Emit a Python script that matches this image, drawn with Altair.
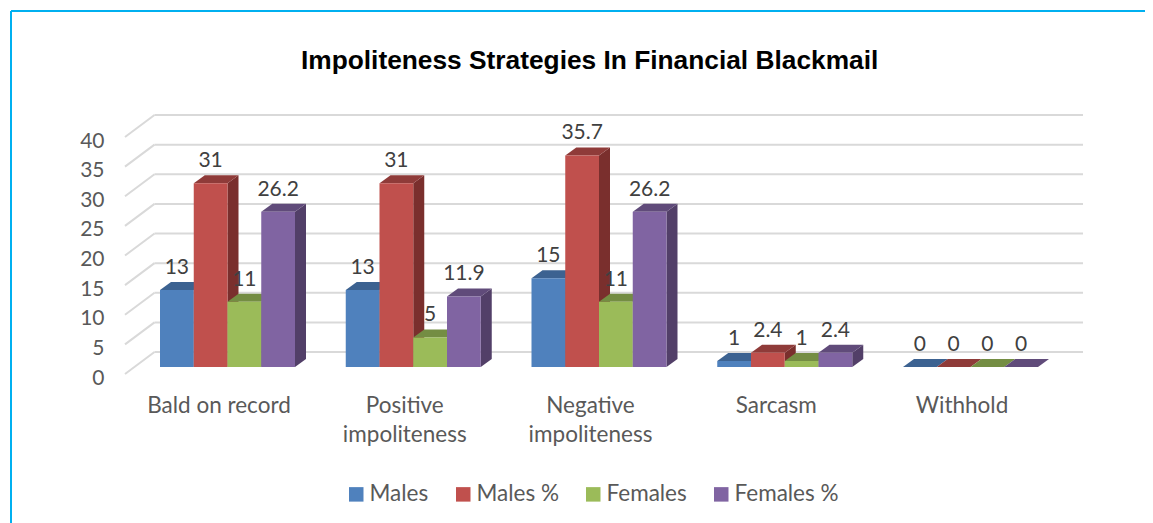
import altair as alt
import pandas as pd

categories = ["Bald on record", "Positive\nimpoliteness", "Negative\nimpoliteness", "Sarcasm", "Withhold"]
series = ["Males", "Males %", "Females", "Females %"]
males = [13, 13, 15, 1, 0]
males_pct = [31, 31, 35.7, 2.4, 0]
females = [11, 5, 11, 1, 0]
females_pct = [26.2, 11.9, 26.2, 2.4, 0]
value_ticks = [0, 5, 10, 15, 20, 25, 30, 35, 40]

front_colors = ["#4F81BD", "#C0504D", "#9BBB59", "#8064A2"]
top_colors = ["#3C6291", "#8F3B39", "#748D43", "#604B7A"]
side_colors = ["#2F4D72", "#7A2F2D", "#5E7236", "#523F68"]

# Page geometry -> data units
W, H = 1137, 515
PX = 185.75          # px per category
PY = 5.925           # px per value unit
X0, Y0 = 160, 367    # page position of (0, 0) on the bars' front plane
bar_w = 33.75 / PX
dx = 11 / PX
dy = 8 / PY

FONT = "Lato"
FS_NUM = 21
FS_TXT = 22.5

x_scale = alt.Scale(domain=[(8 - X0) / PX, (8 + W - X0) / PX], nice=False, zero=False)
y_scale = alt.Scale(domain=[(Y0 - 8 - H) / PY, (Y0 - 8) / PY], nice=False, zero=False)
AXIS = alt.Axis(values=value_ticks, domain=False, ticks=False, grid=False, title=None,
                labelFont=FONT, labelFontSize=FS_NUM, labelColor="#595959",
                labelPadding=-96, labelOffset=11, labelAlign="right")
X = lambda f, **k: alt.X(f, type="quantitative", scale=x_scale, axis=None, title=None, **k)
Y_plain = lambda f: alt.Y(f, type="quantitative", scale=y_scale, axis=AXIS, title=None, stack=None)

rows = []
for s, vals in zip(series, [males, males_pct, females, females_pct]):
    for c, v in zip(categories, vals):
        rows.append({"series": s, "cat": c, "value": v})
df = pd.DataFrame(rows)
df["si"] = df["series"].map(series.index)
df["ci"] = df["cat"].map(categories.index)
df["x0"] = df["ci"] + df["si"] * bar_w
df["x1"] = df["x0"] + bar_w
df["xc"] = df["x0"] + bar_w / 2
df["label"] = df["value"].map(lambda v: f"{v:g}")
df["id"] = df["series"] + df["ci"].astype(str)

layers = []

# Walls: grid lines on the back wall and diagonals on the side wall
grid_x_left = (125 - X0) / PX
grid_x_back = (154.5 - X0) / PX
grid_x_right = (1083 - X0) / PX
back = (Y0 - 352) / PY
front = (Y0 - 374) / PY
grid = pd.DataFrame({"v": value_ticks})
grid["yb"] = grid["v"] + back
grid["yf"] = grid["v"] + front
grid["xl"], grid["xb"], grid["xr"] = grid_x_left, grid_x_back, grid_x_right
GRID = "#D9D9D9"
layers.append(alt.Chart(grid).mark_rule(color=GRID, strokeWidth=2).encode(
    x=X("xb"), x2="xr", y=Y_plain("yb")))
layers.append(alt.Chart(grid).mark_rule(color=GRID, strokeWidth=2).encode(
    x=X("xl"), x2="xb", y=Y_plain("yf"), y2="yb"))

# Bars, painted back to front series by series
for i, s in enumerate(series):
    d = df[df["si"] == i]
    side = pd.concat([
        pd.DataFrame({"id": d["id"], "x": d["x1"], "y": d["value"], "y2": 0.0}),
        pd.DataFrame({"id": d["id"], "x": d["x1"] + dx, "y": d["value"] + dy, "y2": dy}),
    ])
    top = pd.concat([
        pd.DataFrame({"id": d["id"], "y": d["value"], "x": d["x0"], "x2": d["x1"]}),
        pd.DataFrame({"id": d["id"], "y": d["value"] + dy, "x": d["x0"] + dx, "x2": d["x1"] + dx}),
    ])
    layers.append(alt.Chart(side).mark_area(color=side_colors[i], orient="vertical").encode(
        x=X("x"), y=Y_plain("y"), y2="y2", detail="id:N"))
    layers.append(alt.Chart(top).mark_area(color=top_colors[i], orient="horizontal").encode(
        y=Y_plain("y"), x=X("x", stack=None), x2="x2", detail="id:N"))
    layers.append(alt.Chart(d).mark_rect().encode(
        x=X("x0"), x2="x1", y=Y_plain("value"), y2=alt.datum(0),
        color=alt.Color("series:N", scale=alt.Scale(domain=series, range=front_colors),
                        legend=alt.Legend(title=None, orient="none", legendX=337, legendY=475,
                                          direction="horizontal", symbolType="square", symbolSize=210,
                                          symbolStrokeWidth=0, labelFont=FONT, labelFontSize=FS_TXT,
                                          labelColor="#595959", columnPadding=23, labelOffset=2,
                                          columns=4))))

# Data labels
layers.append(alt.Chart(df).mark_text(font=FONT, fontSize=FS_NUM, color="#404040", dy=-22, baseline="middle").encode(
    x=X("xc"), y=Y_plain("value"), text="label:N"))

# Category labels
cats = pd.DataFrame({"cat": categories, "ci": range(len(categories))})
cats["x"] = cats["ci"] + 59 / PX
cats["y"] = (Y0 - 406) / PY
layers.append(alt.Chart(cats).mark_text(font=FONT, fontSize=FS_TXT, color="#595959", lineBreak="\n",
                                        lineHeight=29, baseline="middle").encode(
    x=X("x"), y=Y_plain("y"), text="cat:N"))

# Frame of the picture
layers.append(alt.Chart(pd.DataFrame({"a": [0]})).mark_rule(color="#00B0F0", strokeWidth=2).encode(
    x=alt.value(3), x2=alt.value(W), y=alt.value(3)))
layers.append(alt.Chart(pd.DataFrame({"a": [0]})).mark_rule(color="#00B0F0", strokeWidth=2).encode(
    x=alt.value(3), y=alt.value(3), y2=alt.value(H)))

chart = alt.layer(*layers).properties(
    width=W, height=H,
    autosize=alt.AutoSizeParams(type="none"),
    padding=0,
    background="white",
    title=alt.TitleParams("Impoliteness Strategies In Financial Blackmail", font="Liberation Sans",
                          fontSize=26.3, fontWeight="bold", color="#000000", anchor="start",
                          dx=293, dy=87, offset=0, baseline="alphabetic"),
).configure_view(stroke=None)

chart.save("out.html", embed_options={"renderer": "svg", "actions": False})
